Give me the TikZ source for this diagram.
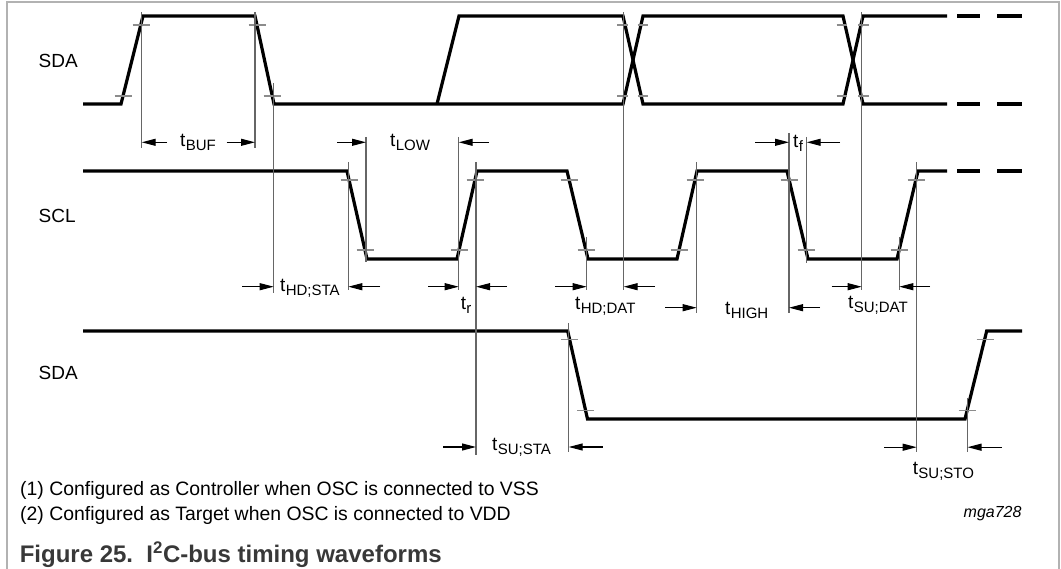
\documentclass[tikz,border=0pt]{standalone}
\usepackage{fontspec}
\setmainfont{Liberation Sans}
\usetikzlibrary{arrows.meta}
\newcommand\tlab[1]{t\kern0.3pt\raisebox{-4pt}{\fontsize{15}{16}\selectfont #1}}
\tikzset{
  wave/.style={line width=3.2pt, line join=miter, draw=black},
  dimline/.style={line width=1.1pt, draw=black!60},
  tickmark/.style={line width=1.1pt, draw=black!45},
  arr/.style={line width=1.1pt, draw=black, -{Triangle[length=14pt,width=7pt]}},
  lbl/.style={inner sep=0pt, anchor=base west, font=\fontsize{19}{22}\selectfont},
  frameline/.style={line width=2pt, draw=black!30},
}
\begin{document}
\begin{tikzpicture}[x=1pt,y=-1pt]
\useasboundingbox (0,0) rectangle (1061,569);
% frame
\draw[frameline] (7,575) -- (7,2) -- (1059,2) -- (1059,575);

% ---- waveforms ----
% SDA (top)
\draw[wave] (83,104) -- (121,104) -- (143,16) -- (255,16) -- (274,104) -- (623,104) -- (643,16) -- (843,16) -- (863,104) -- (947,104);
\draw[wave] (437,104) -- (459,16) -- (623,16) -- (643,104) -- (843,104) -- (863,16) -- (947,16);
% SCL
\draw[wave] (83,171) -- (347,171) -- (367,259) -- (457,259) -- (477,171) -- (567,171) -- (588,259) -- (677,259) -- (697,171) -- (787,171) -- (808,259) -- (897,259) -- (918,171) -- (947,171);
% dashed continuations
\foreach \yy in {16,104,171}{
  \draw[wave] (957,\yy) -- (980,\yy);
  \draw[wave] (997,\yy) -- (1022,\yy);
}
% SDA (bottom)
\draw[wave] (83,331) -- (567.7,331) -- (587.5,419) -- (965,419) -- (986.7,331) -- (1022,331);

% ---- ticks ----
\foreach \xx/\yy in {123/96,141/25,257/25,272/96,
  349/180,365/250,459/250,475/180,569/180,586/250,679/250,695/180,789/180,806/250,899/250,916/180,
  569.5/339.3,585.6/410.6,967/410.6,985/339.3}{
  \draw[tickmark] (\xx-8.5,\yy) -- (\xx+8.5,\yy);
}
\foreach \xx/\yy in {622.3/25,622.3/96,643/25,643/96,842/25,842/96,863.5/25,863.5/96}{
  \draw[tickmark] (\xx-5.3,\yy) -- (\xx+5.3,\yy);
}

% ---- measurement lines ----
\foreach \xx/\ya/\yb in {141.7/12/148, 255/12/148, 273.7/83/293, 348.3/162/290,
  366/137/262, 458.7/137/290, 476/162/455, 568.7/323/452, 586.7/237/290,
  623.7/12/290, 696.7/162/313, 789/133/313, 806.7/137/263, 861.7/12/290,
  899.3/237/290, 916.7/162/452, 967.5/398/452}{
  \draw[dimline] (\xx,\ya) -- (\xx,\yb);
}

% ---- arrows ----
\draw[arr] (167,142.3) -- (141.7,142.3);
\draw[arr] (226.7,142.3) -- (255,142.3);
\draw[arr] (337,142.3) -- (366,142.3);
\draw[arr] (489,142.3) -- (458.7,142.3);
\draw[arr] (755,142.3) -- (789,142.3);
\draw[arr] (840,142.3) -- (806.7,142.3);
\draw[arr] (242,286.7) -- (273.7,286.7);
\draw[arr] (380,286.7) -- (348.3,286.7);
\draw[arr] (428,286.7) -- (458.7,286.7);
\draw[arr] (507,286.7) -- (476,286.7);
\draw[arr] (555,286.7) -- (586.7,286.7);
\draw[arr] (655,286.7) -- (623.7,286.7);
\draw[arr] (665,307.7) -- (696.7,307.7);
\draw[arr] (820,307.7) -- (789,307.7);
\draw[arr] (831.7,286.7) -- (861.7,286.7);
\draw[arr] (930,286.7) -- (899.3,286.7);
\draw[arr] (443,447) -- (476,447);
\draw[arr] (602.8,447) -- (568.7,447);
\draw[arr] (884,447.2) -- (916.7,447.2);
\draw[arr] (1001.7,447.2) -- (967.5,447.2);

% ---- labels ----
\node[lbl] (sdaA) at (38.5,68) {SDA};
\node[lbl] (scl) at (38.5,223) {SCL};
\node[lbl] (sdaB) at (38.5,380) {SDA};

\node[lbl] (tbuf) at (180,147) {\tlab{BUF}};
\node[lbl] (tlow) at (390,146.7) {\tlab{LOW}};
\node[lbl] (tf) at (793,148) {\tlab{f}};
\node[lbl] (thdsta) at (280,292) {\tlab{HD;STA}};
\node[lbl] (tr) at (460.7,310) {\tlab{r}};
\node[lbl] (thddat) at (575,310) {\tlab{HD;DAT}};
\node[lbl] (thigh) at (725,315) {\tlab{HIGH}};
\node[lbl] (tsudat) at (848,308.3) {\tlab{SU;DAT}};
\node[lbl] (tsusta) at (492,450) {\tlab{SU;STA}};
\node[lbl] (tsusto) at (912.7,474) {\tlab{SU;STO}};

\node[lbl, font=\fontsize{19.4}{22}\selectfont] (note1) at (20,495) {(1) Configured as Controller when OSC is connected to VSS};
\node[lbl, font=\fontsize{19.4}{22}\selectfont] (note2) at (20,520) {(2) Configured as Target when OSC is connected to VDD};
\node[lbl, font=\fontsize{16}{18}\selectfont\itshape] (code) at (963.5,517) {mga728};
\node[lbl, font=\fontsize{24}{28}\selectfont\bfseries, text=black!78] (cap) at (19.6,562.7) {Figure 25.\ \ I\textsuperscript{2}C-bus timing waveforms};
\end{tikzpicture}
\end{document}
